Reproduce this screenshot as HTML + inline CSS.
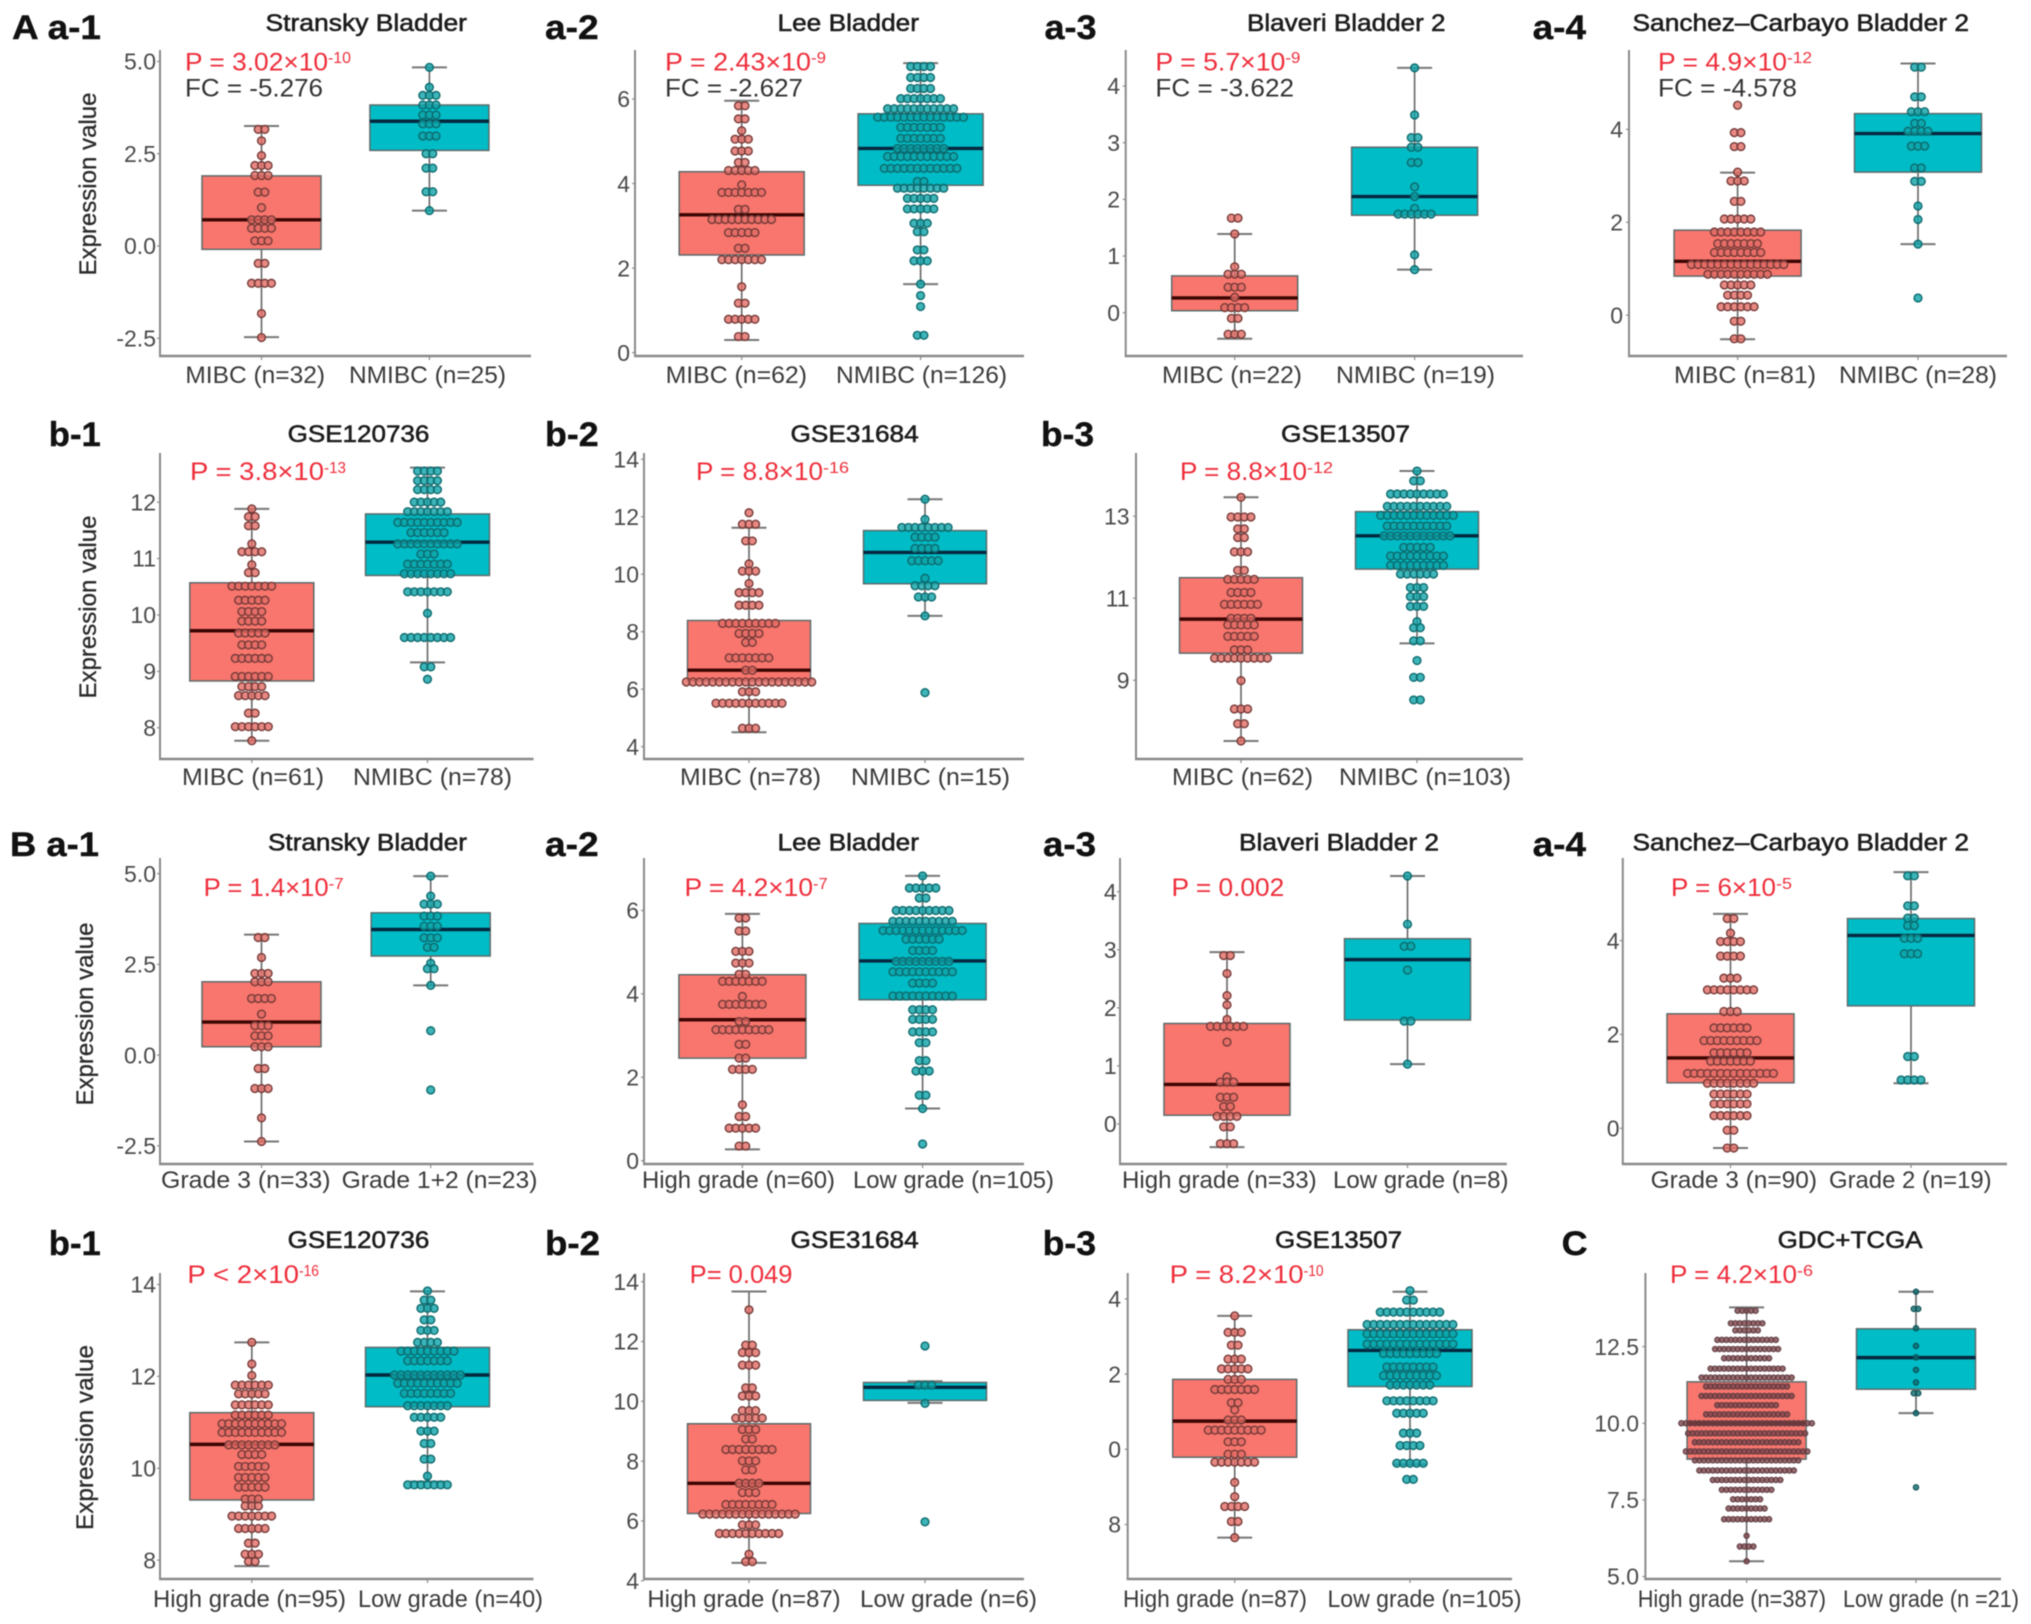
<!DOCTYPE html>
<html lang="en">
<head>
<meta charset="utf-8">
<title>Expression boxplots by stage and grade</title>
<style>
html,body{margin:0;padding:0;background:#fff;}
body{width:2031px;height:1624px;overflow:hidden;}
#figure{display:block;filter:blur(0.6px);font-family:"Liberation Sans",sans-serif;}
text{font-family:"Liberation Sans",sans-serif;}
.pl{font-size:34px;font-weight:bold;fill:#111;stroke:#111;stroke-width:.4px;}
.tt{font-size:24px;fill:#1c1c1c;stroke:#1c1c1c;stroke-width:.55px;}
.xl{font-size:24px;fill:#3a3a3a;}
.p{font-size:25px;fill:#ee2d3a;}
.ex{font-size:16px;fill:#ee2d3a;}
.fc{font-size:25px;fill:#333;}
.yt{font-size:24px;fill:#2a2a2a;stroke:#2a2a2a;stroke-width:.3px;}
.tk{font-size:23px;fill:#4a4a4a;}
</style>
</head>
<body>
<svg id="figure" width="2031" height="1624" viewBox="0 0 2031 1624">
<rect x="0" y="0" width="2031" height="1624" fill="#ffffff"/>

<!-- Panel letters -->
<text class="pl" x="12" y="39" textLength="89" lengthAdjust="spacingAndGlyphs">A a-1</text>
<text class="pl" x="545" y="39" textLength="53.6" lengthAdjust="spacingAndGlyphs">a-2</text>
<text class="pl" x="1044.5" y="39" textLength="52" lengthAdjust="spacingAndGlyphs">a-3</text>
<text class="pl" x="1532.6" y="39" textLength="53.4" lengthAdjust="spacingAndGlyphs">a-4</text>
<text class="pl" x="48.8" y="446" textLength="52" lengthAdjust="spacingAndGlyphs">b-1</text>
<text class="pl" x="545" y="446" textLength="53.6" lengthAdjust="spacingAndGlyphs">b-2</text>
<text class="pl" x="1041" y="446" textLength="53" lengthAdjust="spacingAndGlyphs">b-3</text>
<text class="pl" x="10" y="856" textLength="89" lengthAdjust="spacingAndGlyphs">B a-1</text>
<text class="pl" x="545" y="856" textLength="53.6" lengthAdjust="spacingAndGlyphs">a-2</text>
<text class="pl" x="1043" y="856" textLength="53" lengthAdjust="spacingAndGlyphs">a-3</text>
<text class="pl" x="1532.6" y="856" textLength="53.4" lengthAdjust="spacingAndGlyphs">a-4</text>
<text class="pl" x="48.8" y="1255" textLength="52" lengthAdjust="spacingAndGlyphs">b-1</text>
<text class="pl" x="545" y="1255" textLength="55" lengthAdjust="spacingAndGlyphs">b-2</text>
<text class="pl" x="1042.6" y="1255" textLength="53.4" lengthAdjust="spacingAndGlyphs">b-3</text>
<text class="pl" x="1561.6" y="1255" textLength="26" lengthAdjust="spacingAndGlyphs">C</text>

<!-- Titles -->
<text class="tt" x="265.5" y="31" textLength="201.5" lengthAdjust="spacingAndGlyphs">Stransky Bladder</text>
<text class="tt" x="777.5" y="31" textLength="141.5" lengthAdjust="spacingAndGlyphs">Lee Bladder</text>
<text class="tt" x="1247" y="31" textLength="198.5" lengthAdjust="spacingAndGlyphs">Blaveri Bladder 2</text>
<text class="tt" x="1632.5" y="31" textLength="336.5" lengthAdjust="spacingAndGlyphs">Sanchez–Carbayo Bladder 2</text>
<text class="tt" x="287.6" y="442" textLength="141.8" lengthAdjust="spacingAndGlyphs">GSE120736</text>
<text class="tt" x="790.5" y="442" textLength="128.2" lengthAdjust="spacingAndGlyphs">GSE31684</text>
<text class="tt" x="1281" y="442" textLength="129" lengthAdjust="spacingAndGlyphs">GSE13507</text>
<text class="tt" x="268" y="850.7" textLength="199" lengthAdjust="spacingAndGlyphs">Stransky Bladder</text>
<text class="tt" x="777.5" y="850.7" textLength="141.5" lengthAdjust="spacingAndGlyphs">Lee Bladder</text>
<text class="tt" x="1239" y="850.7" textLength="200" lengthAdjust="spacingAndGlyphs">Blaveri Bladder 2</text>
<text class="tt" x="1632.5" y="850.7" textLength="336.5" lengthAdjust="spacingAndGlyphs">Sanchez–Carbayo Bladder 2</text>
<text class="tt" x="287.6" y="1248" textLength="141.8" lengthAdjust="spacingAndGlyphs">GSE120736</text>
<text class="tt" x="790.5" y="1248" textLength="128.2" lengthAdjust="spacingAndGlyphs">GSE31684</text>
<text class="tt" x="1275" y="1248" textLength="127" lengthAdjust="spacingAndGlyphs">GSE13507</text>
<text class="tt" x="1777.6" y="1248" textLength="145" lengthAdjust="spacingAndGlyphs">GDC+TCGA</text>

<!-- Y axis titles -->
<text class="yt" transform="translate(96,184) rotate(-90)" x="-91.5" y="0" textLength="183" lengthAdjust="spacingAndGlyphs">Expression value</text>
<text class="yt" transform="translate(96,607) rotate(-90)" x="-91.5" y="0" textLength="183" lengthAdjust="spacingAndGlyphs">Expression value</text>
<text class="yt" transform="translate(93,1014) rotate(-90)" x="-91.5" y="0" textLength="183" lengthAdjust="spacingAndGlyphs">Expression value</text>
<text class="yt" transform="translate(93,1437.5) rotate(-90)" x="-92.5" y="0" textLength="185" lengthAdjust="spacingAndGlyphs">Expression value</text>

<!-- X category labels -->
<text class="xl" x="185.4" y="383" textLength="139.6" lengthAdjust="spacingAndGlyphs">MIBC (n=32)</text>
<text class="xl" x="349" y="383" textLength="157" lengthAdjust="spacingAndGlyphs">NMIBC (n=25)</text>
<text class="xl" x="665.6" y="383" textLength="141.4" lengthAdjust="spacingAndGlyphs">MIBC (n=62)</text>
<text class="xl" x="836" y="383" textLength="171" lengthAdjust="spacingAndGlyphs">NMIBC (n=126)</text>
<text class="xl" x="1162" y="383" textLength="140" lengthAdjust="spacingAndGlyphs">MIBC (n=22)</text>
<text class="xl" x="1336" y="383" textLength="159" lengthAdjust="spacingAndGlyphs">NMIBC (n=19)</text>
<text class="xl" x="1674" y="383" textLength="142" lengthAdjust="spacingAndGlyphs">MIBC (n=81)</text>
<text class="xl" x="1839" y="383" textLength="158" lengthAdjust="spacingAndGlyphs">NMIBC (n=28)</text>
<text class="xl" x="182" y="785" textLength="142" lengthAdjust="spacingAndGlyphs">MIBC (n=61)</text>
<text class="xl" x="353" y="785" textLength="159" lengthAdjust="spacingAndGlyphs">NMIBC (n=78)</text>
<text class="xl" x="680" y="785" textLength="141" lengthAdjust="spacingAndGlyphs">MIBC (n=78)</text>
<text class="xl" x="851" y="785" textLength="159" lengthAdjust="spacingAndGlyphs">NMIBC (n=15)</text>
<text class="xl" x="1172" y="785" textLength="141" lengthAdjust="spacingAndGlyphs">MIBC (n=62)</text>
<text class="xl" x="1339" y="785" textLength="172" lengthAdjust="spacingAndGlyphs">NMIBC (n=103)</text>
<text class="xl" x="161" y="1188" textLength="169.5" lengthAdjust="spacingAndGlyphs">Grade 3 (n=33)</text>
<text class="xl" x="341.6" y="1188" textLength="195.8" lengthAdjust="spacingAndGlyphs">Grade 1+2 (n=23)</text>
<text class="xl" x="642" y="1188" textLength="193" lengthAdjust="spacingAndGlyphs">High grade (n=60)</text>
<text class="xl" x="853" y="1188" textLength="201" lengthAdjust="spacingAndGlyphs">Low grade (n=105)</text>
<text class="xl" x="1122" y="1188" textLength="194.6" lengthAdjust="spacingAndGlyphs">High grade (n=33)</text>
<text class="xl" x="1333" y="1188" textLength="175.5" lengthAdjust="spacingAndGlyphs">Low grade (n=8)</text>
<text class="xl" x="1650.6" y="1188" textLength="166.4" lengthAdjust="spacingAndGlyphs">Grade 3 (n=90)</text>
<text class="xl" x="1829" y="1188" textLength="162.6" lengthAdjust="spacingAndGlyphs">Grade 2 (n=19)</text>
<text class="xl" x="153" y="1607" textLength="193" lengthAdjust="spacingAndGlyphs">High grade (n=95)</text>
<text class="xl" x="358" y="1607" textLength="185" lengthAdjust="spacingAndGlyphs">Low grade (n=40)</text>
<text class="xl" x="647.4" y="1607" textLength="193.2" lengthAdjust="spacingAndGlyphs">High grade (n=87)</text>
<text class="xl" x="860" y="1607" textLength="177" lengthAdjust="spacingAndGlyphs">Low grade (n=6)</text>
<text class="xl" x="1123" y="1607" textLength="184" lengthAdjust="spacingAndGlyphs">High grade (n=87)</text>
<text class="xl" x="1327.5" y="1607" textLength="194" lengthAdjust="spacingAndGlyphs">Low grade (n=105)</text>
<text class="xl" x="1637.7" y="1607" textLength="188.3" lengthAdjust="spacingAndGlyphs">High grade (n=387)</text>
<text class="xl" x="1843" y="1607" textLength="176" lengthAdjust="spacingAndGlyphs">Low grade (n =21)</text>

<!-- Marks from script go here -->
<g id="marks"></g>

<!-- P values and fold changes -->
<text class="p" x="185" y="70.5" textLength="143" lengthAdjust="spacingAndGlyphs">P = 3.02×10</text>
<text class="ex" x="328" y="63" textLength="23" lengthAdjust="spacingAndGlyphs">-10</text>
<text class="fc" x="185" y="96.7" textLength="138" lengthAdjust="spacingAndGlyphs">FC = -5.276</text>
<text class="p" x="665" y="70.5" textLength="146" lengthAdjust="spacingAndGlyphs">P = 2.43×10</text>
<text class="ex" x="811" y="63" textLength="15" lengthAdjust="spacingAndGlyphs">-9</text>
<text class="fc" x="665" y="96.7" textLength="138" lengthAdjust="spacingAndGlyphs">FC = -2.627</text>
<text class="p" x="1155.4" y="70.5" textLength="130" lengthAdjust="spacingAndGlyphs">P = 5.7×10</text>
<text class="ex" x="1285.4" y="63" textLength="15" lengthAdjust="spacingAndGlyphs">-9</text>
<text class="fc" x="1155.4" y="96.7" textLength="138.6" lengthAdjust="spacingAndGlyphs">FC = -3.622</text>
<text class="p" x="1658" y="70.5" textLength="129" lengthAdjust="spacingAndGlyphs">P = 4.9×10</text>
<text class="ex" x="1787" y="63" textLength="25" lengthAdjust="spacingAndGlyphs">-12</text>
<text class="fc" x="1658" y="96.7" textLength="139" lengthAdjust="spacingAndGlyphs">FC = -4.578</text>
<text class="p" x="190" y="480" textLength="134" lengthAdjust="spacingAndGlyphs">P = 3.8×10</text>
<text class="ex" x="324" y="473" textLength="22" lengthAdjust="spacingAndGlyphs">-13</text>
<text class="p" x="696" y="480" textLength="127" lengthAdjust="spacingAndGlyphs">P = 8.8×10</text>
<text class="ex" x="823" y="473" textLength="26" lengthAdjust="spacingAndGlyphs">-16</text>
<text class="p" x="1180" y="480" textLength="127" lengthAdjust="spacingAndGlyphs">P = 8.8×10</text>
<text class="ex" x="1307" y="473" textLength="26" lengthAdjust="spacingAndGlyphs">-12</text>
<text class="p" x="203.6" y="896" textLength="125" lengthAdjust="spacingAndGlyphs">P = 1.4×10</text>
<text class="ex" x="328.6" y="889" textLength="15" lengthAdjust="spacingAndGlyphs">-7</text>
<text class="p" x="684.5" y="896" textLength="128.5" lengthAdjust="spacingAndGlyphs">P = 4.2×10</text>
<text class="ex" x="813" y="889" textLength="14.6" lengthAdjust="spacingAndGlyphs">-7</text>
<text class="p" x="1171.5" y="896" textLength="112.8" lengthAdjust="spacingAndGlyphs">P = 0.002</text>
<text class="p" x="1671" y="896" textLength="105" lengthAdjust="spacingAndGlyphs">P = 6×10</text>
<text class="ex" x="1776" y="889" textLength="16" lengthAdjust="spacingAndGlyphs">-5</text>
<text class="p" x="187.4" y="1283" textLength="111.6" lengthAdjust="spacingAndGlyphs">P &lt; 2×10</text>
<text class="ex" x="299" y="1276" textLength="20" lengthAdjust="spacingAndGlyphs">-16</text>
<text class="p" x="689.7" y="1283" textLength="102.8" lengthAdjust="spacingAndGlyphs">P= 0.049</text>
<text class="p" x="1169.6" y="1283" textLength="134" lengthAdjust="spacingAndGlyphs">P = 8.2×10</text>
<text class="ex" x="1303.6" y="1276" textLength="20" lengthAdjust="spacingAndGlyphs">-10</text>
<text class="p" x="1670" y="1283" textLength="127" lengthAdjust="spacingAndGlyphs">P = 4.2×10</text>
<text class="ex" x="1797" y="1276" textLength="16" lengthAdjust="spacingAndGlyphs">-6</text>
</svg>

<script>
// ===== Data: stats are [whiskerLow, q1, median, q3, whiskerHigh]; dots are value rows with a count per row =====
const Aa1Ticks=[5,2.5,0,-2.5];
const Aa1TickLabels=["5.0","2.5","0.0","-2.5"];
const Aa1G1Stats=[-2.47,-0.09,0.71,1.9,3.25];
const Aa1G1Values=[3.16,2.85,2.45,2.18,1.91,1.46,1.04,0.71,0.48,0.14,-0.47,-1.01,-1.83,-2.48];
const Aa1G1Counts=[2,1,1,3,3,2,1,4,4,3,2,4,1,1];
const Aa1G2Stats=[0.96,2.59,3.38,3.82,4.84];
const Aa1G2Values=[4.84,4.30,4.08,3.82,3.55,3.31,2.98,2.5,2.11,1.47,0.96];
const Aa1G2Counts=[1,1,3,3,3,3,3,2,2,2,1];

const Aa2Ticks=[6,4,2,0];
const Aa2TickLabels=["6","4","2","0"];
const Aa2G1Stats=[0.30,2.31,3.26,4.28,5.96];
const Aa2G1Values=[5.84,5.53,5.25,5.05,4.77,4.5,4.31,3.97,3.79,3.39,3.15,2.84,2.47,2.2,1.56,1.17,0.79,0.38];
const Aa2G1Counts=[2,2,1,3,3,2,5,1,7,2,10,5,2,7,1,2,5,2];
const Aa2G2Stats=[1.62,3.96,4.83,5.65,6.85];
const Aa2G2Values=[6.77,6.51,6.25,6.01,5.77,5.57,5.33,5.07,4.83,4.64,4.36,4.05,3.89,3.65,3.4,3.06,2.86,2.43,2.17,1.62,1.35,1.09,0.41];
const Aa2G2Counts=[4,4,4,7,11,14,7,7,8,11,12,2,8,5,5,3,2,2,3,1,1,1,2];

const Aa3Ticks=[4,3,2,1,0];
const Aa3TickLabels=["4","3","2","1","0"];
const Aa3G1Stats=[-0.46,0.035,0.26,0.65,1.39];
const Aa3G1Values=[1.67,1.39,0.81,0.68,0.45,0.27,0.09,-0.1,-0.38];
const Aa3G1Counts=[2,1,1,3,3,1,4,2,3];
const Aa3G2Stats=[0.76,1.72,2.05,2.92,4.32];
const Aa3G2Values=[4.32,3.49,3.09,2.92,2.65,2.22,2.05,1.84,1.74,1.02,0.76];
const Aa3G2Counts=[1,1,2,2,2,1,1,1,6,1,1];

const Aa4Ticks=[4,2,0];
const Aa4TickLabels=["4","2","0"];
const Aa4G1Stats=[-0.52,0.84,1.16,1.83,3.07];
const Aa4G1Values=[4.52,3.93,3.63,3.08,2.89,2.45,2.07,1.79,1.54,1.35,1.09,0.88,0.65,0.43,0.18,-0.13,-0.51];
const Aa4G1Counts=[1,2,2,1,3,2,5,8,7,8,15,10,5,4,6,2,2];
const Aa4G2Stats=[1.53,3.08,3.91,4.34,5.42];
const Aa4G2Values=[5.34,4.7,4.38,4.13,3.96,3.64,3.17,2.88,2.35,2.06,1.53,0.37];
const Aa4G2Counts=[2,2,3,2,4,3,2,2,1,1,1,1];

const Ab1Ticks=[12,11,10,9,8];
const Ab1TickLabels=["12","11","10","9","8"];
const Ab1G1Stats=[7.77,8.83,9.72,10.57,11.88];
const Ab1G1Values=[11.88,11.74,11.58,11.26,11.12,10.89,10.75,10.51,10.26,10.06,9.89,9.68,9.47,9.23,8.91,8.73,8.57,8.26,8.02,7.77];
const Ab1G1Counts=[1,2,2,1,4,1,2,7,5,4,4,5,4,6,6,4,5,2,6,1];
const Ab1G2Stats=[9.16,10.70,11.29,11.79,12.61];
const Ab1G2Values=[12.55,12.38,12.22,12.0,11.83,11.64,11.46,11.26,11.08,10.9,10.73,10.41,10.03,9.6,9.08,8.86];
const Ab1G2Counts=[4,4,4,5,7,10,6,10,3,7,8,7,1,8,2,1];

const Ab2Ticks=[14,12,10,8,6,4];
const Ab2TickLabels=["14","12","10","8","6","4"];
const Ab2G1Stats=[4.5,6.29,6.66,8.39,11.62];
const Ab2G1Values=[12.14,11.74,11.16,10.36,10.11,9.68,9.36,8.92,8.29,7.94,7.63,7.09,6.66,6.25,5.91,5.51,4.64];
const Ab2G1Counts=[1,3,2,1,3,1,4,4,9,4,2,7,2,20,3,11,3];
const Ab2G2Stats=[8.55,9.67,10.76,11.52,12.61];
const Ab2G2Values=[12.61,11.91,11.63,11.29,10.9,10.47,9.86,9.6,9.21,8.55,5.88];
const Ab2G2Counts=[1,1,8,4,4,5,1,4,3,1,1];

const Ab3Ticks=[13,11,9];
const Ab3TickLabels=["13","11","9"];
const Ab3G1Stats=[7.52,9.66,10.49,11.5,13.46];
const Ab3G1Values=[13.46,12.98,12.69,12.48,12.13,11.68,11.46,11.14,10.85,10.51,10.35,10.07,9.74,9.54,8.99,8.3,7.94,7.52];
const Ab3G1Counts=[1,4,2,2,3,2,5,4,6,4,5,5,3,9,1,3,2,1];
const Ab3G2Stats=[9.9,11.71,12.52,13.11,14.1];
const Ab3G2Values=[14.1,13.86,13.54,13.24,13.02,12.76,12.52,12.24,12.03,11.8,11.59,11.26,11.04,10.8,10.43,10.28,9.96,9.48,9.07,8.52];
const Ab3G2Counts=[1,2,9,10,12,10,11,5,9,9,6,3,3,3,1,2,2,1,2,2];

const Ba1Ticks=[5,2.5,0,-2.5];
const Ba1TickLabels=["5.0","2.5","0.0","-2.5"];
const Ba1G1Stats=[-2.38,0.23,0.91,2.02,3.32];
const Ba1G1Values=[3.24,2.69,2.25,2.02,1.56,1.13,0.81,0.53,0.23,-0.37,-0.92,-1.73,-2.38];
const Ba1G1Counts=[2,1,3,3,4,1,3,3,3,2,3,1,1];
const Ba1G2Stats=[1.92,2.73,3.46,3.92,4.93];
const Ba1G2Values=[4.93,4.38,4.16,3.83,3.55,3.23,2.97,2.53,2.38,1.92,0.67,-0.96];
const Ba1G2Counts=[1,1,3,3,3,3,2,1,2,1,1,1];

const Ba2Ticks=[6,4,2,0];
const Ba2TickLabels=["6","4","2","0"];
const Ba2G1Stats=[0.27,2.46,3.38,4.46,5.92];
const Ba2G1Values=[5.82,5.51,5.02,4.74,4.47,4.3,3.94,3.75,3.34,3.14,2.79,2.46,2.19,1.34,1.06,0.78,0.35];
const Ba2G1Counts=[2,2,3,3,2,7,1,7,2,9,2,2,4,1,2,5,2];
const Ba2G2Stats=[1.25,3.86,4.79,5.69,6.83];
const Ba2G2Values=[6.83,6.54,6.3,6,5.74,5.52,5.31,5.04,4.78,4.53,4.26,3.95,3.62,3.39,3.09,2.83,2.4,2.15,1.57,1.25,0.4];
const Ba2G2Counts=[1,5,2,9,10,13,6,4,9,10,4,10,4,4,4,2,2,3,2,1,1];

const Ba3Ticks=[4,3,2,1,0];
const Ba3TickLabels=["4","3","2","1","0"];
const Ba3G1Stats=[-0.4,0.15,0.68,1.73,2.96];
const Ba3G1Values=[2.9,2.59,2.21,2.05,1.8,1.68,1.41,0.81,0.72,0.46,0.3,0.13,-0.05,-0.34];
const Ba3G1Counts=[2,1,1,1,1,6,1,1,3,3,2,4,2,3];
const Ba3G2Stats=[1.03,1.79,2.83,3.19,4.27];
const Ba3G2Values=[4.27,3.44,3.06,2.65,1.77,1.03];
const Ba3G2Counts=[1,1,2,1,2,1];

const Ba4Ticks=[4,2,0];
const Ba4TickLabels=["4","2","0"];
const Ba4G1Stats=[-0.42,0.97,1.5,2.44,4.57];
const Ba4G1Values=[4.47,4.16,3.98,3.67,3.2,2.95,2.49,2.14,1.87,1.61,1.43,1.17,0.96,0.73,0.52,0.27,-0.04,-0.42];
const Ba4G1Counts=[2,1,4,4,3,8,3,6,9,6,7,14,8,6,6,6,2,2];
const Ba4G2Stats=[0.96,2.61,4.11,4.47,5.46];
const Ba4G2Values=[5.38,4.74,4.48,4.32,4.05,3.72,1.53,1.03];
const Ba4G2Counts=[2,2,2,2,3,3,2,4];

const Bb1Ticks=[14,12,10,8];
const Bb1TickLabels=["14","12","10","8"];
const Bb1G1Stats=[7.87,9.31,10.52,11.21,12.74];
const Bb1G1Values=[12.74,12.27,12.02,11.81,11.62,11.38,11.16,10.97,10.78,10.51,10.3,10.04,9.8,9.59,9.33,9.18,8.96,8.69,8.37,8.13,7.97];
const Bb1G1Counts=[1,1,1,6,5,6,6,10,10,8,4,5,5,5,3,3,7,5,2,3,2];
const Bb1G2Stats=[9.71,11.34,12.03,12.63,13.85];
const Bb1G2Values=[13.86,13.66,13.48,13.23,13.0,12.74,12.55,12.34,12.03,11.85,11.63,11.36,11.11,10.81,10.54,10.2,9.83,9.64];
const Bb1G2Counts=[1,2,3,2,3,4,9,7,11,10,8,7,5,3,2,2,1,7];

const Bb2Ticks=[14,12,10,8,6,4];
const Bb2TickLabels=["14","12","10","8","6","4"];
const Bb2G1Stats=[4.6,6.25,7.26,9.25,13.67];
const Bb2G1Values=[13.06,11.88,11.63,11.21,10.45,10.18,9.69,9.44,9.06,8.74,8.39,8.01,7.71,7.26,6.95,6.55,6.23,5.87,5.58,4.89,4.64];
const Bb2G1Counts=[1,2,3,3,2,3,3,5,3,2,8,3,2,4,3,8,15,3,10,1,2];
const Bb2G2Stats=[9.95,10.03,10.47,10.63,10.67];
const Bb2G2Values=[11.85,10.54,9.93,5.97];
const Bb2G2Counts=[1,3,1,1];

const Bb3Ticks=[4,2,0,-2];
const Bb3TickLabels=["4","2","0","8"];
const Bb3G1Stats=[-2.35,-0.21,0.75,1.86,3.55];
const Bb3G1Values=[3.55,3.11,2.77,2.4,2.14,1.86,1.59,1.24,1.05,0.78,0.51,0.2,-0.13,-0.34,-0.88,-1.26,-1.52,-1.92,-2.35];
const Bb3G1Counts=[1,3,2,3,5,3,7,2,1,3,9,3,3,7,1,1,4,2,1];
const Bb3G2Stats=[-0.4,1.67,2.63,3.18,4.19];
const Bb3G2Values=[4.22,3.97,3.65,3.32,3.07,2.8,2.55,2.19,1.96,1.71,1.29,0.96,0.43,0.1,-0.37,-0.8];
const Bb3G2Counts=[1,2,10,14,14,14,9,8,9,7,8,5,3,4,5,2];

const CTicks=[12.5,10,7.5,5];
const CTickLabels=["12.5","10.0","7.5","5.0"];
const CG1Stats=[5.5,8.83,10.0,11.35,13.78];
const CG1Values=[13.67,13.26,13.03,12.72,12.42,12.12,11.78,11.49,11.2,10.89,10.59,10.29,10.0,9.67,9.38,9.08,8.79,8.46,8.15,7.83,7.52,7.22,6.87,6.33,5.98,5.5];
const CG1Counts=[5,8,6,14,15,11,17,21,19,21,14,19,30,27,24,28,24,22,16,12,7,9,11,1,4,1];
const CG2Stats=[10.33,11.11,12.14,13.08,14.29];
const CG2Values=[14.29,13.73,13.1,12.52,12.15,11.74,11.33,10.98,10.33,7.91];
const CG2Counts=[1,2,1,1,1,1,1,2,1,1];

// ===== Layout =====
const panels=[
 {id:'A-a1',axL:160,axR:531,axT:50,axB:356,yLo:-2.98,yHi:5.31,cx:[261.5,429.4],hw:59.5,tickR:156,ticks:Aa1Ticks,labels:Aa1TickLabels,g1:[Aa1G1Stats,Aa1G1Values,Aa1G1Counts],g2:[Aa1G2Stats,Aa1G2Values,Aa1G2Counts]},
 {id:'A-a2',axL:635,axR:1024,axT:50,axB:356,yLo:-0.08,yHi:7.16,cx:[741.7,920.6],hw:62.5,tickR:630,ticks:Aa2Ticks,labels:Aa2TickLabels,g1:[Aa2G1Stats,Aa2G1Values,Aa2G1Counts],g2:[Aa2G2Stats,Aa2G2Values,Aa2G2Counts]},
 {id:'A-a3',axL:1125.7,axR:1523,axT:50,axB:356,yLo:-0.764,yHi:4.636,cx:[1234.7,1414.6],hw:63,tickR:1120,ticks:Aa3Ticks,labels:Aa3TickLabels,g1:[Aa3G1Stats,Aa3G1Values,Aa3G1Counts],g2:[Aa3G2Stats,Aa3G2Values,Aa3G2Counts]},
 {id:'A-a4',axL:1629,axR:2007,axT:50,axB:356,yLo:-0.88,yHi:5.71,cx:[1737.6,1918],hw:63.5,tickR:1623,ticks:Aa4Ticks,labels:Aa4TickLabels,g1:[Aa4G1Stats,Aa4G1Values,Aa4G1Counts],g2:[Aa4G2Stats,Aa4G2Values,Aa4G2Counts]},
 {id:'A-b1',axL:160,axR:533.5,axT:453,axB:759,yLo:7.447,yHi:12.87,cx:[251.8,427.5],hw:62,tickR:156,ticks:Ab1Ticks,labels:Ab1TickLabels,g1:[Ab1G1Stats,Ab1G1Values,Ab1G1Counts],g2:[Ab1G2Stats,Ab1G2Values,Ab1G2Counts]},
 {id:'A-b2',axL:644,axR:1024,axT:453,axB:759,yLo:3.57,yHi:14.22,cx:[749,925],hw:61.5,tickR:639,ticks:Ab2Ticks,labels:Ab2TickLabels,g1:[Ab2G1Stats,Ab2G1Values,Ab2G1Counts],g2:[Ab2G2Stats,Ab2G2Values,Ab2G2Counts]},
 {id:'A-b3',axL:1136,axR:1523,axT:453,axB:759,yLo:7.08,yHi:14.54,cx:[1241,1417],hw:61.5,tickR:1129.6,ticks:Ab3Ticks,labels:Ab3TickLabels,g1:[Ab3G1Stats,Ab3G1Values,Ab3G1Counts],g2:[Ab3G2Stats,Ab3G2Values,Ab3G2Counts]},
 {id:'B-a1',axL:160,axR:533.5,axT:858,axB:1164,yLo:-3.0,yHi:5.43,cx:[261.5,430.7],hw:59.5,tickR:156,ticks:Ba1Ticks,labels:Ba1TickLabels,g1:[Ba1G1Stats,Ba1G1Values,Ba1G1Counts],g2:[Ba1G2Stats,Ba1G2Values,Ba1G2Counts]},
 {id:'B-a2',axL:644,axR:1024,axT:858,axB:1164,yLo:-0.08,yHi:7.26,cx:[742.4,922.6],hw:63.5,tickR:639,ticks:Ba2Ticks,labels:Ba2TickLabels,g1:[Ba2G1Stats,Ba2G1Values,Ba2G1Counts],g2:[Ba2G2Stats,Ba2G2Values,Ba2G2Counts]},
 {id:'B-a3',axL:1120,axR:1506.8,axT:858,axB:1164,yLo:-0.69,yHi:4.58,cx:[1227,1407.5],hw:63,tickR:1116.7,ticks:Ba3Ticks,labels:Ba3TickLabels,g1:[Ba3G1Stats,Ba3G1Values,Ba3G1Counts],g2:[Ba3G2Stats,Ba3G2Values,Ba3G2Counts]},
 {id:'B-a4',axL:1622.8,axR:2007,axT:858,axB:1164,yLo:-0.76,yHi:5.76,cx:[1730.5,1911],hw:63.5,tickR:1619.6,ticks:Ba4Ticks,labels:Ba4TickLabels,g1:[Ba4G1Stats,Ba4G1Values,Ba4G1Counts],g2:[Ba4G2Stats,Ba4G2Values,Ba4G2Counts]},
 {id:'B-b1',axL:160,axR:533.5,axT:1273,axB:1579,yLo:7.59,yHi:14.25,cx:[251.8,427.5],hw:62,tickR:156,ticks:Bb1Ticks,labels:Bb1TickLabels,g1:[Bb1G1Stats,Bb1G1Values,Bb1G1Counts],g2:[Bb1G2Stats,Bb1G2Values,Bb1G2Counts]},
 {id:'B-b2',axL:644,axR:1024,axT:1273,axB:1579,yLo:4.06,yHi:14.29,cx:[749,925],hw:61.5,tickR:639,ticks:Bb2Ticks,labels:Bb2TickLabels,g1:[Bb2G1Stats,Bb2G1Values,Bb2G1Counts],g2:[Bb2G2Stats,Bb2G2Values,Bb2G2Counts]},
 {id:'B-b3',axL:1127.7,axR:1512,axT:1273,axB:1579,yLo:-3.45,yHi:4.69,cx:[1234.7,1410],hw:62,tickR:1121,ticks:Bb3Ticks,labels:Bb3TickLabels,g1:[Bb3G1Stats,Bb3G1Values,Bb3G1Counts],g2:[Bb3G2Stats,Bb3G2Values,Bb3G2Counts]},
 {id:'C',axL:1645.4,axR:2001,axT:1273,axB:1579,yLo:4.92,yHi:14.9,cx:[1746.6,1916],hw:59.5,tickR:1639,ticks:CTicks,labels:CTickLabels,g1:[CG1Stats,CG1Values,CG1Counts],g2:[CG2Stats,CG2Values,CG2Counts],dotR:2.7,dotStep:4.5,dotW:1.0,dark:true}
];
const palette=[
 {box:'#f8766d',dot:'#e26c65',ring:'#743a37',med:'#3c0503',darkDot:'#7c4348',darkRing:'#5a3a40'},
 {box:'#00bcc6',dot:'#0ea3a8',ring:'#0d6a6e',med:'#04283f',darkDot:'#0b6a6e',darkRing:'#0a4a4e'}
];

// ===== Drawing =====
const root=document.getElementById('figure');
const marks=document.getElementById('marks');
function make(tag,attrs,parent){
  const el=document.createElementNS(root.namespaceURI,tag);
  for(const k in attrs){el.setAttribute(k,attrs[k]);}
  parent.appendChild(el);
  return el;
}
function yScale(p){
  return function(v){return p.axB-(v-p.yLo)/(p.yHi-p.yLo)*(p.axB-p.axT);};
}
function drawAxes(p,g,y){
  const yLine=make('line',{x1:p.axL,x2:p.axL,y1:p.axT,y2:p.axB,stroke:'#8a8a8a','stroke-width':2},g);
  
  
  const xLine=make('line',{x1:p.axL-1,x2:p.axR,y1:p.axB,y2:p.axB,stroke:'#8a8a8a','stroke-width':2.4},g);
  
  
  p.ticks.forEach(function(t,i){
    const py=y(t);
    const mark=make('line',{x1:p.axL-3,x2:p.axL,y1:py,y2:py,stroke:'#8a8a8a','stroke-width':1.2},g);
    
    
    const label=make('text',{x:p.tickR,y:py+8.2,'text-anchor':'end','class':'tk'},g);
    
    
    label.textContent=p.labels[i];
  });
  p.cx.forEach(function(c){
    const mark=make('line',{x1:c,x2:c,y1:p.axB,y2:p.axB+4,stroke:'#8a8a8a','stroke-width':1.2},g);
    
    
  });
}
function drawGroup(p,g,y,series,cx,col){
  const stats=series[0],values=series[1],counts=series[2];
  const lo=stats[0],q1=stats[1],med=stats[2],q3=stats[3],hi=stats[4];
  const whisker=make('line',{x1:cx,x2:cx,y1:y(hi),y2:y(lo),stroke:'#666','stroke-width':1.6},g);
  
  
  [hi,lo].forEach(function(v){
    const cap=make('line',{x1:cx-17.5,x2:cx+17.5,y1:y(v),y2:y(v),stroke:'#777','stroke-width':2},g);
    
    
  });
  const box=make('rect',{x:cx-p.hw,y:y(q3),width:p.hw*2,height:y(q1)-y(q3),fill:col.box,stroke:'#5d6b6b','stroke-width':1.5},g);
  
  
  const median=make('line',{x1:cx-p.hw,x2:cx+p.hw,y1:y(med),y2:y(med),stroke:col.med,'stroke-width':3.4},g);
  
  
  const r=p.dotR||3.9,step=p.dotStep||6.6,sw=p.dotW||1.4;
  const fill=p.dark?col.darkDot:col.dot;
  const ring=p.dark?col.darkRing:col.ring;
  values.forEach(function(v,i){
    const n=counts[i];
    for(let k=0;k<n;k++){
      const dot=make('circle',{cx:cx+(k-(n-1)/2)*step,cy:y(v),r:r,fill:fill,'fill-opacity':.8,stroke:ring,'stroke-width':sw},g);
      
      
    }
  });
}
panels.forEach(function(p){
  const g=make('g',{},marks);
  
  
  const y=yScale(p);
  drawAxes(p,g,y);
  drawGroup(p,g,y,p.g1,p.cx[0],palette[0]);
  drawGroup(p,g,y,p.g2,p.cx[1],palette[1]);
});
</script>
</body>
</html>
